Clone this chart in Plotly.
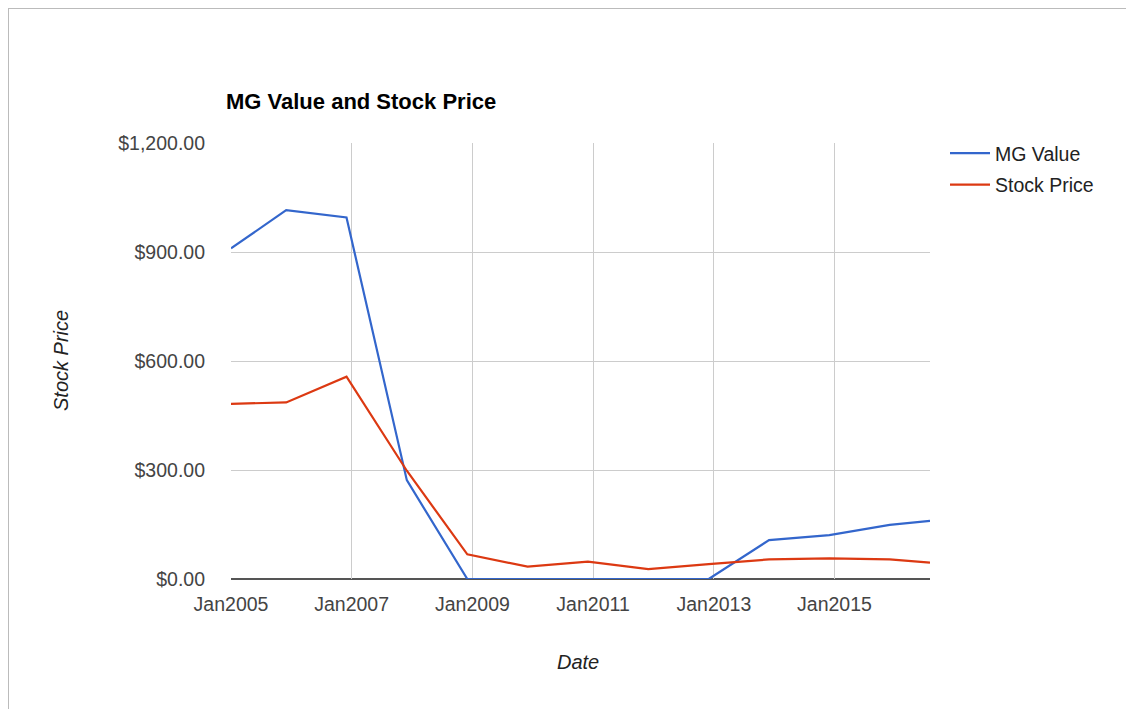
import plotly.graph_objects as go

dates = ["2005-01-01", "2005-12-01", "2006-12-01", "2007-12-01", "2008-12-01",
         "2009-12-01", "2010-12-01", "2011-12-01", "2012-12-01", "2013-12-01",
         "2014-12-01", "2015-12-01", "2016-08-01"]
mg_value = [910, 1015, 995, 272, 0, 0, 0, 0, 0, 107, 121, 149, 160]
stock_price = [482, 486, 557, 298, 68, 34, 48, 27, 41, 54, 57, 54, 45]

OFF = 8  # page offset of the figure (body margin)
W, H = 1134, 709
L, R, T, B = 231 - OFF, 930 - OFF, 143 - OFF, 579 - OFF

fig = go.Figure()
fig.add_trace(go.Scatter(x=dates, y=mg_value, name="MG Value", mode="lines",
                         legendgroup="a", line=dict(color="#3366cc", width=2.2),
                         cliponaxis=False))
fig.add_trace(go.Scatter(x=dates, y=stock_price, name="Stock Price", mode="lines",
                         legendgroup="b", line=dict(color="#dc3912", width=2.2)))

def px(x):  # page x -> paper
    return (x - OFF - L) / (R - L)

def py(y):  # page y -> paper
    return (B - (y - OFF)) / (B - T)

fig.update_layout(
    width=W, height=H,
    margin=dict(l=L, r=W - R, t=T, b=H - B, autoexpand=False),
    paper_bgcolor="white", plot_bgcolor="white",
    font=dict(family="Arial, Liberation Sans, sans-serif", color="#444444", size=19.5),
    showlegend=True,
    legend=dict(x=px(945), y=py(134), xanchor="left", yanchor="top",
                font=dict(size=19.5, color="#222222"), itemwidth=40,
                tracegroupgap=3, bgcolor="rgba(0,0,0,0)"),
    hovermode=False,
    xaxis=dict(range=["2005-01-01", "2016-08-01"], dtick="M24", tick0="2005-01-01",
               tickformat="%b%Y", showgrid=True, gridcolor="#cccccc", gridwidth=1,
               zeroline=False, showline=False, ticks="", ticklabelstandoff=11,
               tickfont=dict(size=19.5, color="#444444"), fixedrange=True),
    yaxis=dict(range=[0, 1200], dtick=300, tickformat="$,.2f",
               showgrid=True, gridcolor="#cccccc", gridwidth=1,
               zeroline=False, showline=False, ticks="", ticklabelstandoff=25,
               tickfont=dict(size=19.5, color="#444444"), fixedrange=True),
    annotations=[
        dict(text="<b>MG Value and Stock Price</b>", xref="paper", yref="paper",
             x=px(224), y=py(101), xanchor="left", yanchor="middle", showarrow=False,
             font=dict(size=22, color="#000000")),
        dict(text="<i>Stock Price</i>", xref="paper", yref="paper",
             x=px(61), y=py(361), xanchor="center", yanchor="middle", showarrow=False,
             textangle=-90, font=dict(size=20, color="#222222")),
        dict(text="<i>Date</i>", xref="paper", yref="paper",
             x=px(578), y=py(662), xanchor="center", yanchor="middle", showarrow=False,
             font=dict(size=20, color="#222222")),
    ],
    shapes=[
        dict(type="line", xref="paper", yref="paper", x0=0, x1=1, y0=0, y1=0,
             line=dict(color="#555555", width=2), layer="below"),
        dict(type="line", xref="paper", yref="paper", x0=px(8.5), x1=px(1150), y0=py(8.5), y1=py(8.5),
             line=dict(color="#bbbbbb", width=1)),
        dict(type="line", xref="paper", yref="paper", x0=px(8.5), x1=px(8.5), y0=py(8), y1=py(720),
             line=dict(color="#bbbbbb", width=1)),
    ],
)

fig.write_html("out.html", config=dict(displayModeBar=False))
